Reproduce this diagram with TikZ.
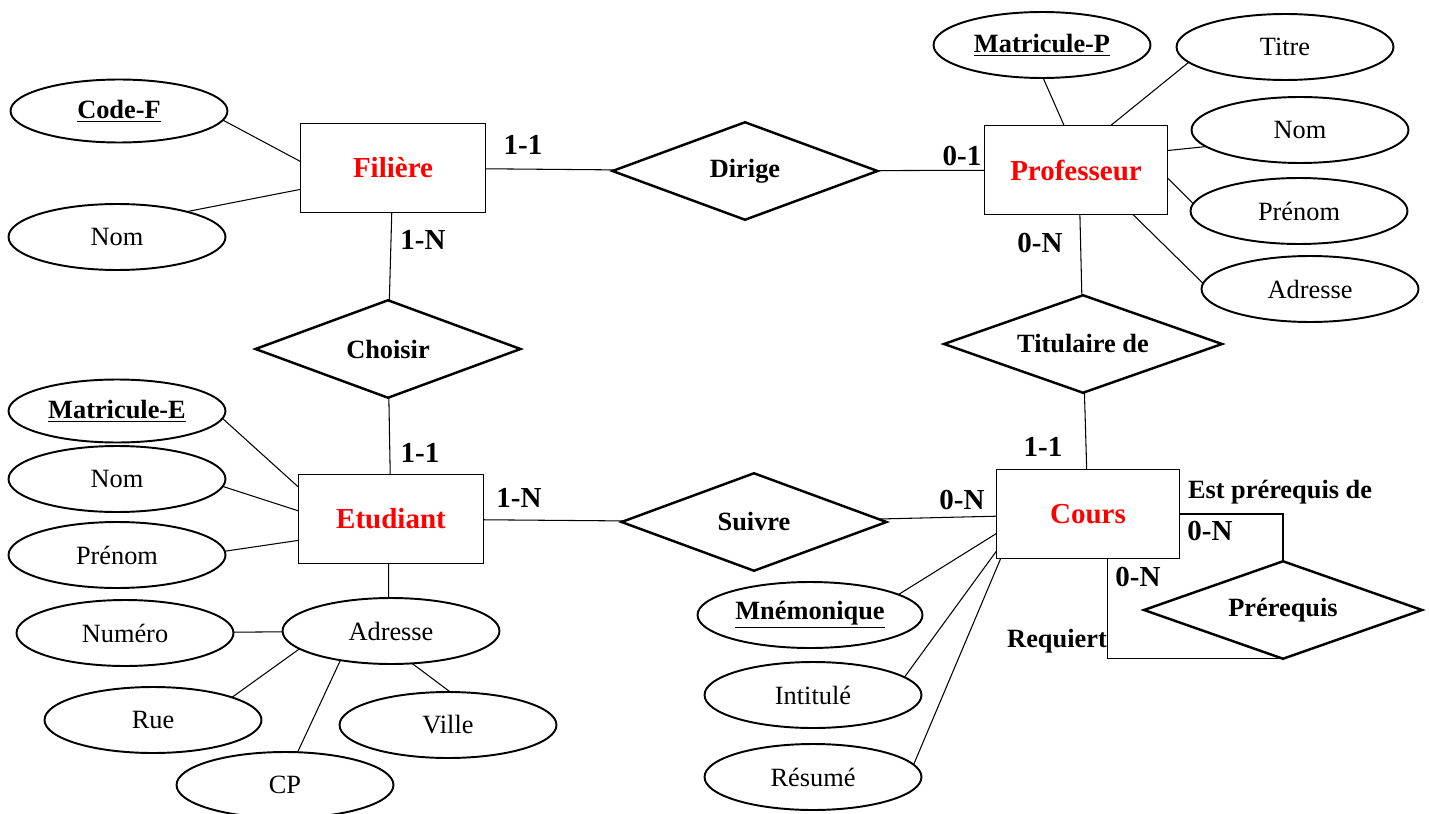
\documentclass[tikz,border=0pt]{standalone}
\usepackage{fontspec}
\setmainfont{Liberation Serif}
\usepackage{tikz}
\usepackage{xcolor}
\usetikzlibrary{shapes.geometric}

\begin{document}
\begin{tikzpicture}[x=0.02cm,y=-0.02cm]
\tikzstyle{entity}=[rectangle,draw,line width=1pt,minimum width=3.7cm,minimum height=1.78cm,outer sep=0pt,text=red,font=\fontsize{16.5}{19}\selectfont\bfseries]
\tikzstyle{relation}=[diamond,draw,line width=1.4pt,aspect=2.7,inner sep=0pt,outer sep=0pt,minimum width=5.3cm,minimum height=1.95cm,font=\fontsize{15}{18}\selectfont\bfseries]
\tikzstyle{attribute}=[ellipse,draw,line width=1.1pt,minimum width=4.34cm,minimum height=1.32cm,inner sep=0pt,outer sep=0pt,font=\fontsize{15}{18}\selectfont]
\tikzstyle{key}=[attribute,font=\fontsize{15}{18}\selectfont\bfseries]
\tikzstyle{card}=[inner sep=0pt,font=\fontsize{16.5}{19}\selectfont\bfseries]
\tikzstyle{role}=[inner sep=0pt,font=\fontsize{15}{18}\selectfont\bfseries]
\tikzstyle{link}=[line width=0.6pt]

\useasboundingbox (0,0) rectangle (1429,814);

\node[entity](Filiere) at (393,168){Filière};
\node[entity](Etudiant) at (391,519){Etudiant};
\node[entity,minimum width=3.66cm](Prof) at (1076,170){Professeur};
\node[entity,minimum width=3.66cm](Cours) at (1088,514){Cours};

\node[relation](Dirige) at (745,171){Dirige};
\node[relation](Choisir) at (388,349){Choisir};
\node[relation](Suivre) at (754,522){Suivre};
\node[relation,minimum width=5.56cm](Titulaire) at (1083,344){Titulaire de};
\node[relation,minimum width=5.56cm](Prerequis) at (1283,610){Prérequis};

\node[key,minimum height=1.26cm](CodeF) at (119,111){\underline{Code-F}};
\node[attribute](NomF) at (117,237){Nom};

\node[key,minimum height=1.26cm](MatE) at (117,411){\underline{Matricule-E}};
\node[attribute](NomE) at (117,479){Nom};
\node[attribute](PrenomE) at (117,555){Prénom};
\node[attribute](AdrE) at (391,631){Adresse};
\node[attribute](Numero) at (125,633){Numéro};
\node[attribute](Rue) at (153,720){Rue};
\node[attribute](Ville) at (448,725){Ville};
\node[attribute](CP) at (285,785){CP};

\node[key](MatP) at (1042,45){\underline{Matricule-P}};
\node[attribute](Titre) at (1285,47){Titre};
\node[attribute](NomP) at (1300,130){Nom};
\node[attribute](PrenomP) at (1299,211){Prénom};
\node[attribute](AdrP) at (1310,289){Adresse};

\node[key,minimum width=4.5cm](Mnem) at (810,615){\underline{Mnémonique}};
\node[attribute](Intitule) at (813,695){Intitulé};
\node[attribute](Resume) at (813,777){Résumé};

\node[card](cFilDir) at (523,145){1-1};
\node[card](cProfDir) at (962,156){0-1};
\node[card](cFilCho) at (423,240){1-N};
\node[card](cEtuCho) at (420,453){1-1};
\node[card](cProfTit) at (1040,243){0-N};
\node[card](cCoursTit) at (1043,447){1-1};
\node[card](cEtuSui) at (519,498){1-N};
\node[card](cCoursSui) at (962,500){0-N};
\node[card](cEst) at (1210,531){0-N};
\node[card](cReq) at (1138,577){0-N};
\node[role](Est) at (1280,492){Est prérequis de};
\node[role](Req) at (1057,641){Requiert};

\draw[link] (Filiere) -- (Dirige);
\draw[link] (Dirige) -- (Prof);
\draw[link] (Filiere) -- (Choisir);
\draw[link] (Choisir) -- (Etudiant);
\draw[link] (Etudiant) -- (Suivre);
\draw[link] (Suivre) -- (Cours);
\draw[link] (Prof.-85) -- (Titulaire);
\draw[link] (Titulaire) -- (Cours);
\draw[link] (Cours.east) -| (Prerequis.north);
\draw[link] (Cours.-66) |- (Prerequis.south);

\draw[link] (CodeF.-5) -- (Filiere.176);
\draw[link] (NomF.20) -- (Filiere.193);

\draw[link] (MatE.-4) -- (Etudiant.161);
\draw[link] (NomE.-4) -- (Etudiant.175);
\draw[link] (PrenomE.2) -- (Etudiant.193);
\draw[link] (Etudiant.-93) -- (AdrE.94);
\draw[link] (Numero) -- (AdrE);
\draw[link] (AdrE.191) -- (Rue.16);
\draw[link] (AdrE.210) -- (CP.69);
\draw[link] (AdrE.-57) -- (Ville.86);

\draw[link] (MatP.-88) -- (Prof.105);
\draw[link] (Titre.189) -- (Prof.52);
\draw[link] (NomP.190) -- (Prof.12);
\draw[link] (PrenomP.176) -- (Prof.-5);
\draw[link] (AdrP.177) -- (Prof.-38);

\draw[link] (Mnem.13) -- (Cours.192);
\draw[link] (Intitule.11) -- (Cours.202);
\draw[link] (Resume.7) -- (Cours.207);

\end{tikzpicture}
\end{document}
